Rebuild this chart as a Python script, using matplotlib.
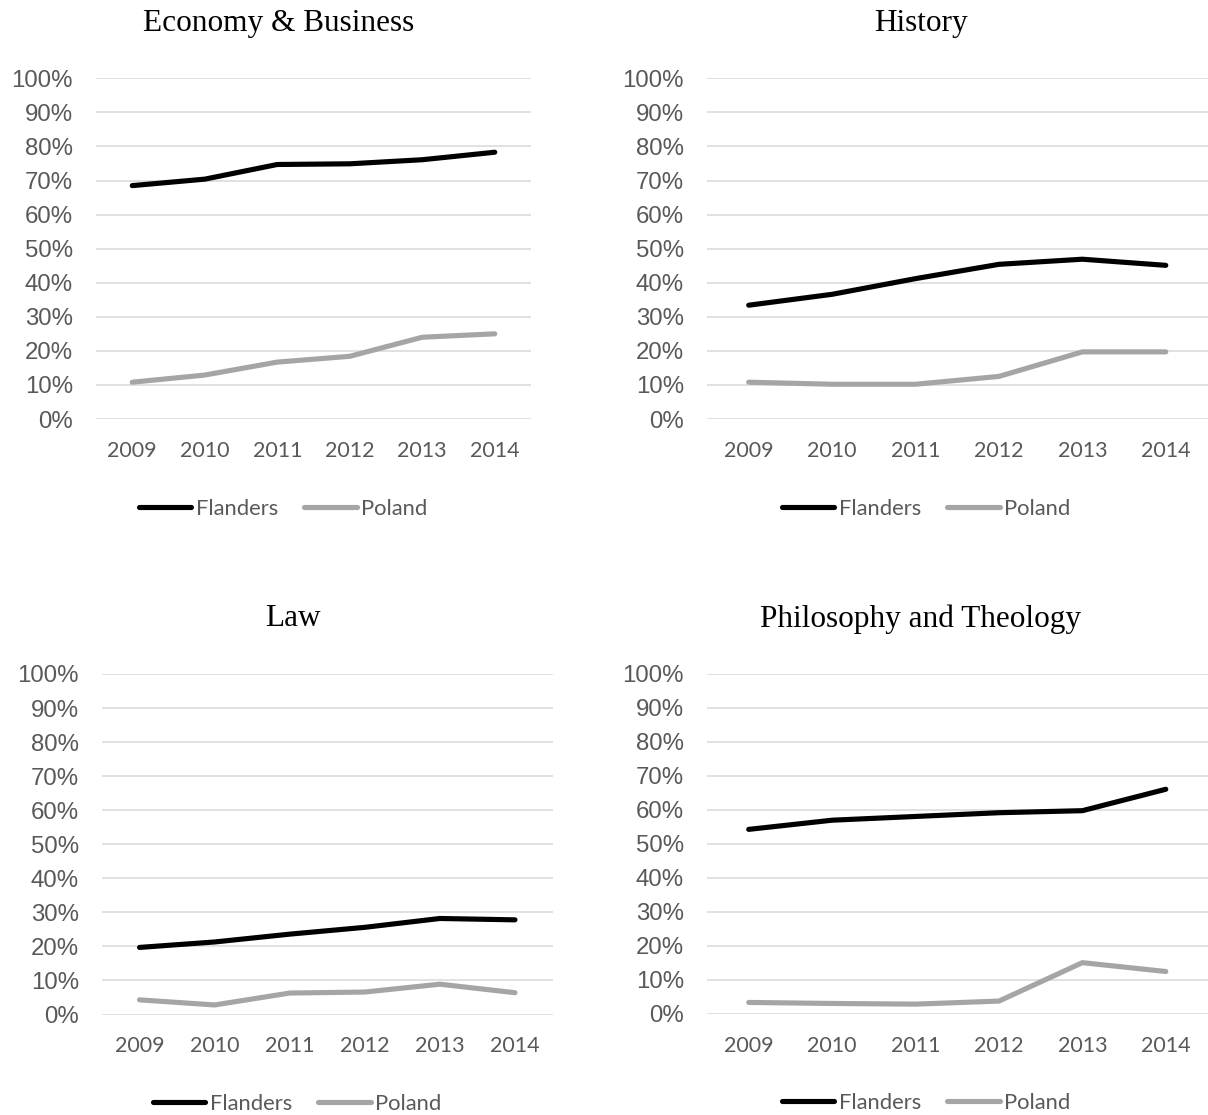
import matplotlib
matplotlib.use("Agg")
import matplotlib.pyplot as plt
from matplotlib.ticker import FuncFormatter

years = ["2009", "2010", "2011", "2012", "2013", "2014"]

econ_flanders = [68.5, 70.4, 74.7, 74.9, 76.1, 78.3]
econ_poland = [10.8, 12.9, 16.7, 18.4, 24.0, 25.0]

hist_flanders = [33.4, 36.6, 41.2, 45.4, 46.9, 45.1]
hist_poland = [10.8, 10.2, 10.2, 12.5, 19.7, 19.7]

law_flanders = [19.7, 21.3, 23.6, 25.6, 28.2, 27.8]
law_poland = [4.3, 2.8, 6.3, 6.6, 8.9, 6.4]

phil_flanders = [54.3, 57.0, 58.1, 59.2, 59.8, 66.1]
phil_poland = [3.4, 3.1, 2.9, 3.8, 15.1, 12.5]

titles = ["Economy & Business", "History", "Law", "Philosophy and Theology"]

W, H = 1208, 1115
BLACK = "#000000"
GREY = "#a5a5a5"
TEXT = "#595959"
GRID = "#d9d9d9"

fig = plt.figure(figsize=(W / 100, H / 100), dpi=100)
fig.patch.set_facecolor("white")


def px_axes(x0, x1, y0, y1):
    # pixel box (top-left origin) -> figure axes
    return fig.add_axes([x0 / W, 1 - y1 / H, (x1 - x0) / W, (y1 - y0) / H])


# axes box, title centre, legend centre (all in pixels)
panels = [
    ((96, 531, 78.3, 419), (279, 23), (283, 509), econ_flanders, econ_poland),
    ((707, 1207.5, 78.3, 419), (921, 23), (926, 509), hist_flanders, hist_poland),
    ((102, 552.5, 674, 1014.5), (292.5, 619), (297, 1104), law_flanders, law_poland),
    ((707, 1207.5, 674, 1014), (921, 619), (926, 1103), phil_flanders, phil_poland),
]

for (box, tpos, lpos, fl, pl), title in zip(panels, titles):
    ax = px_axes(*box)
    x = range(len(years))
    ax.plot(x, [v / 100 for v in fl], color=BLACK, lw=3.7,
            solid_capstyle="round", solid_joinstyle="round", label="Flanders", zorder=3)
    ax.plot(x, [v / 100 for v in pl], color=GREY, lw=3.7,
            solid_capstyle="round", solid_joinstyle="round", label="Poland", zorder=3)

    ax.set_xlim(-0.5, len(years) - 0.5)
    ax.set_ylim(0, 1)
    ax.set_yticks([i / 10 for i in range(11)])
    ax.yaxis.set_major_formatter(FuncFormatter(lambda v, _: f"{v * 100:.0f}%"))
    ax.set_xticks(list(x))
    ax.set_xticklabels(years)
    ax.grid(axis="y", color=GRID, lw=1.1)
    ax.set_axisbelow(True)
    for s in ax.spines.values():
        s.set_visible(False)
    ax.tick_params(axis="y", length=0, pad=16.5, labelsize=17.3, labelcolor=TEXT)
    ax.tick_params(axis="x", length=0, pad=15.5, labelsize=15.5, labelcolor=TEXT)
    for lab in ax.get_yticklabels():
        lab.set_family("Liberation Sans")
    for lab in ax.get_xticklabels():
        lab.set_family("Lato")

    fig.text(tpos[0] / W, 1 - tpos[1] / H, title, ha="center", va="center",
             family="Liberation Serif", fontsize=22.5, color="black")

    leg = ax.legend(loc="center", bbox_to_anchor=(lpos[0] / W, 1 - lpos[1] / H),
                    bbox_transform=fig.transFigure, ncol=2, frameon=False,
                    prop={"family": "Lato", "size": 15.8}, handlelength=2.4,
                    handletextpad=0.2, columnspacing=1.2, borderpad=0, borderaxespad=0)
    for t in leg.get_texts():
        t.set_color(TEXT)

fig.savefig("out.png", dpi=100, facecolor="white")
